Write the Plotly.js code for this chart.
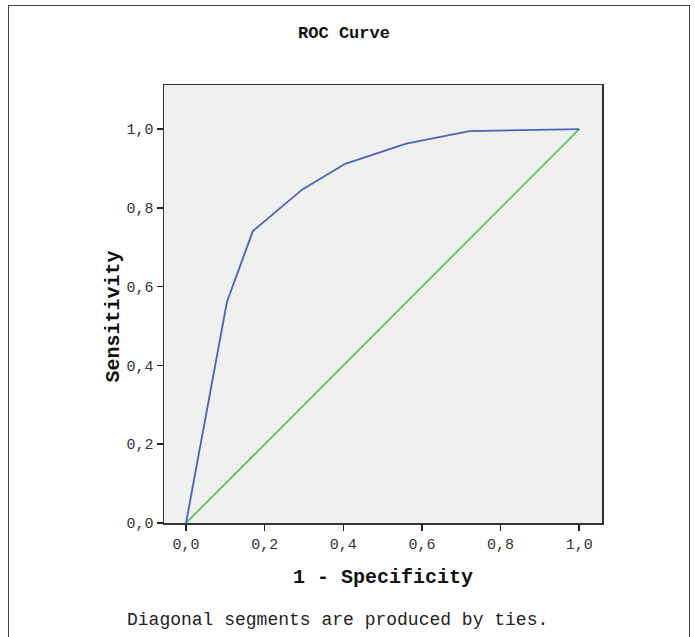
<!DOCTYPE html>
<html>
<head>
<meta charset="utf-8">
<script src="https://cdn.plot.ly/plotly-3.0.1.min.js"></script>
<style>
html,body{margin:0;padding:0;background:#fff;}
#wrap{position:relative;width:695px;height:637px;overflow:hidden;}
#chart{position:absolute;left:0;top:0;width:695px;height:637px;}
#frame{position:absolute;left:8px;top:5px;width:682px;height:700px;border:1.5px solid #444;pointer-events:none;box-sizing:border-box;}
</style>
</head>
<body>
<div id="wrap"><div id="chart"></div><div id="frame"></div></div>
<script>
const specificity1 = [0, 0.104, 0.170, 0.296, 0.405, 0.560, 0.721, 1.0];
const sensitivity = [0, 0.561, 0.741, 0.847, 0.912, 0.963, 0.995, 1.0];
const refX = [0, 1];
const refY = [0, 1];
const tickVals = [0, 0.2, 0.4, 0.6, 0.8, 1.0];

const mono = '"Liberation Mono","Courier New",monospace';

const traces = [
  {x: refX, y: refY, type: 'scatter', mode: 'lines', line: {color: '#5cbf5c', width: 1.8}, hoverinfo: 'none'},
  {x: specificity1, y: sensitivity, type: 'scatter', mode: 'lines', line: {color: '#4a63bd', width: 1.8}, hoverinfo: 'none'}
];

const layout = {
  width: 695, height: 637,
  margin: {l: 164, r: 93, t: 85, b: 114},
  paper_bgcolor: 'rgba(0,0,0,0)',
  plot_bgcolor: '#f0f0f0',
  showlegend: false,
  separators: ',.',
  font: {family: mono, color: '#222'},
  title: {text: '<b>ROC Curve</b>', font: {family: mono, size: 17, color: '#111'}, x: 0.495, xanchor: 'center', y: 0.95, yanchor: 'middle'},
  xaxis: {
    range: [-0.056, 1.058], tickvals: tickVals, tickformat: '.1f',
    ticks: 'outside', ticklen: 6, tickwidth: 1.5, tickcolor: '#222',
    showline: true, mirror: true, linecolor: '#333', linewidth: 1.5,
    showgrid: false, zeroline: false,
    tickfont: {family: mono, size: 15, color: '#333'},
    title: {text: '<b>1 - Specificity</b>', font: {family: mono, size: 20, color: '#111'}, standoff: 16}
  },
  yaxis: {
    range: [0, 1.112], tickvals: tickVals, tickformat: '.1f',
    ticks: 'outside', ticklen: 6, tickwidth: 1.5, tickcolor: '#222',
    showline: true, mirror: true, linecolor: '#333', linewidth: 1.5,
    showgrid: false, zeroline: false,
    tickfont: {family: mono, size: 15, color: '#333'}
  },
  annotations: [
    {text: '<b>Sensitivity</b>', xref: 'paper', yref: 'paper', x: -0.116, y: 0.472, xanchor: 'center', yanchor: 'middle', textangle: -90, showarrow: false, font: {family: mono, size: 20, color: '#111'}},
    {text: 'Diagonal segments are produced by ties.', xref: 'paper', yref: 'paper', x: 0.395, y: -0.222, xanchor: 'center', yanchor: 'middle', showarrow: false, font: {family: mono, size: 18, color: '#222'}}
  ]
};

Plotly.newPlot('chart', traces, layout, {displayModeBar: false, staticPlot: true});
</script>
</body>
</html>
